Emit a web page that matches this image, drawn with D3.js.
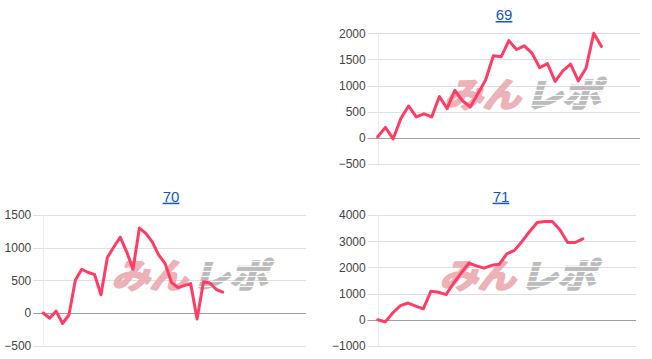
<!DOCTYPE html>
<html>
<head>
<meta charset="utf-8">
<script src="https://cdn.jsdelivr.net/npm/d3@7/dist/d3.min.js"></script>
<style>
  html, body { margin: 0; padding: 0; background: #fff; }
  svg { display: block; }
</style>
</head>
<body>
<svg id="chart" width="652" height="359"></svg>
<script>
// ---- data ----
const titles = ["69", "70", "71"];
const values69 = [20, 200, -20, 370, 610, 400, 460, 400, 790, 560, 910, 710, 590, 850, 1110, 1570, 1550, 1860, 1690, 1760, 1620, 1340, 1420, 1080, 1280, 1410, 1090, 1330, 2000, 1750];
const values70 = [0, -80, 30, -160, -30, 500, 670, 620, 590, 280, 850, 1010, 1160, 940, 670, 1300, 1220, 1090, 890, 760, 470, 390, 420, 450, -90, 480, 460, 360, 320];
const values71 = [0, -80, 270, 540, 640, 520, 420, 1090, 1050, 960, 1400, 1790, 2160, 2060, 1970, 2080, 2120, 2520, 2650, 2990, 3370, 3710, 3750, 3750, 3430, 2950, 2950, 3090];
const ticks69 = [-500, 0, 500, 1000, 1500, 2000];
const ticks70 = [-500, 0, 500, 1000, 1500];
const ticks71 = [-1000, 0, 1000, 2000, 3000, 4000];
const xSlots69 = 34, xSlots70 = 41, xSlots71 = 34;

// ---- layout ----
const panels = [
  { title: titles[0], values: values69, ticks: ticks69, slots: xSlots69,
    x0: 377.7, x1: 640, yTop: 33.3, yBot: 164, titleX: 504, titleY: 20, wmX: 441, wmY: 91 },
  { title: titles[1], values: values70, ticks: ticks70, slots: xSlots70,
    x0: 43.3, x1: 306, yTop: 215, yBot: 345.7, titleX: 171, titleY: 201.7, wmX: 108, wmY: 272 },
  { title: titles[2], values: values71, ticks: ticks71, slots: xSlots71,
    x0: 377.7, x1: 636, yTop: 215, yBot: 346, titleX: 501, titleY: 201.7, wmX: 436, wmY: 272 }
];

const svg = d3.select("#chart");
const defs = svg.append("defs");
const pat = defs.append("pattern").attr("id", "stripe").attr("patternUnits", "userSpaceOnUse")
  .attr("width", 8).attr("height", 5);
pat.append("rect").attr("width", 8).attr("height", 4).attr("fill", "#bcbcbc");

panels.forEach(p => {
  const g = svg.append("g");
  const y = d3.scaleLinear().domain(d3.extent(p.ticks)).range([p.yBot, p.yTop]);
  const x = d3.scaleLinear().domain([0, p.slots]).range([p.x0, p.x1]);

  // title
  g.append("text").attr("x", p.titleX).attr("y", p.titleY)
    .attr("text-anchor", "middle")
    .attr("font-family", "Liberation Sans, Arial, sans-serif")
    .attr("font-size", 15).attr("fill", "#1155cc")
    .attr("text-decoration", "underline")
    .text(p.title);

  // y axis via d3.axisLeft, restyled
  const axis = d3.axisLeft(y).tickValues(p.ticks).tickSize(0).tickPadding(0)
    .tickFormat(d3.format("d"));
  const ag = g.append("g").attr("transform", `translate(${p.x0 - 11},0)`).call(axis);
  ag.select(".domain").remove();
  ag.selectAll("text").attr("font-family", "Liberation Sans, Arial, sans-serif")
    .attr("font-size", 12).attr("fill", "#444").attr("dx", -1);

  // gridlines
  g.selectAll(".grid").data(p.ticks).enter().append("line")
    .attr("x1", p.x0 - 10).attr("x2", p.x1)
    .attr("y1", d => Math.round(y(d)) + 0.5).attr("y2", d => Math.round(y(d)) + 0.5)
    .attr("stroke", d => d === 0 ? "#9e9e9e" : "#e0e0e0").attr("stroke-width", 1);
  g.append("line").attr("x1", Math.round(p.x0) + 0.5).attr("x2", Math.round(p.x0) + 0.5)
    .attr("y1", p.yTop).attr("y2", p.yBot).attr("stroke", "#ebebeb");
  g.append("line").attr("x1", p.x0 - 10).attr("x2", p.x1)
    .attr("y1", Math.round(y(0)) + 0.5).attr("y2", Math.round(y(0)) + 0.5)
    .attr("stroke", "#9e9e9e");

  // watermark
  const wm = g.append("g").attr("transform", `translate(${p.wmX},${p.wmY}) skewX(-16)`);
  wm.append("text").attr("x", 8).attr("y", 1).attr("dominant-baseline", "central")
    .attr("font-family", "Noto Sans CJK JP").attr("font-weight", "bold").attr("font-size", 34)
    .attr("textLength", 76).attr("lengthAdjust", "spacingAndGlyphs")
    .attr("fill", "#e9a5ab").attr("stroke", "#e9a5ab").attr("stroke-width", 2.2)
    .attr("stroke-linejoin", "round").attr("opacity", 0.85).text("みん");
  wm.append("text").attr("x", 88).attr("y", 1).attr("dominant-baseline", "central")
    .attr("font-family", "Noto Sans CJK JP").attr("font-weight", "bold").attr("font-size", 34)
    .attr("textLength", 76).attr("lengthAdjust", "spacingAndGlyphs")
    .attr("fill", "url(#stripe)").attr("stroke", "url(#stripe)").attr("stroke-width", 2.2)
    .text("レポ");

  // line
  const line = d3.line().x((d, i) => x(i)).y(d => y(d));
  g.append("path").datum(p.values).attr("d", line)
    .attr("fill", "none").attr("stroke", "#ff3d64").attr("stroke-width", 3)
    .attr("stroke-linejoin", "round").attr("stroke-linecap", "round");
});
</script>
</body>
</html>
